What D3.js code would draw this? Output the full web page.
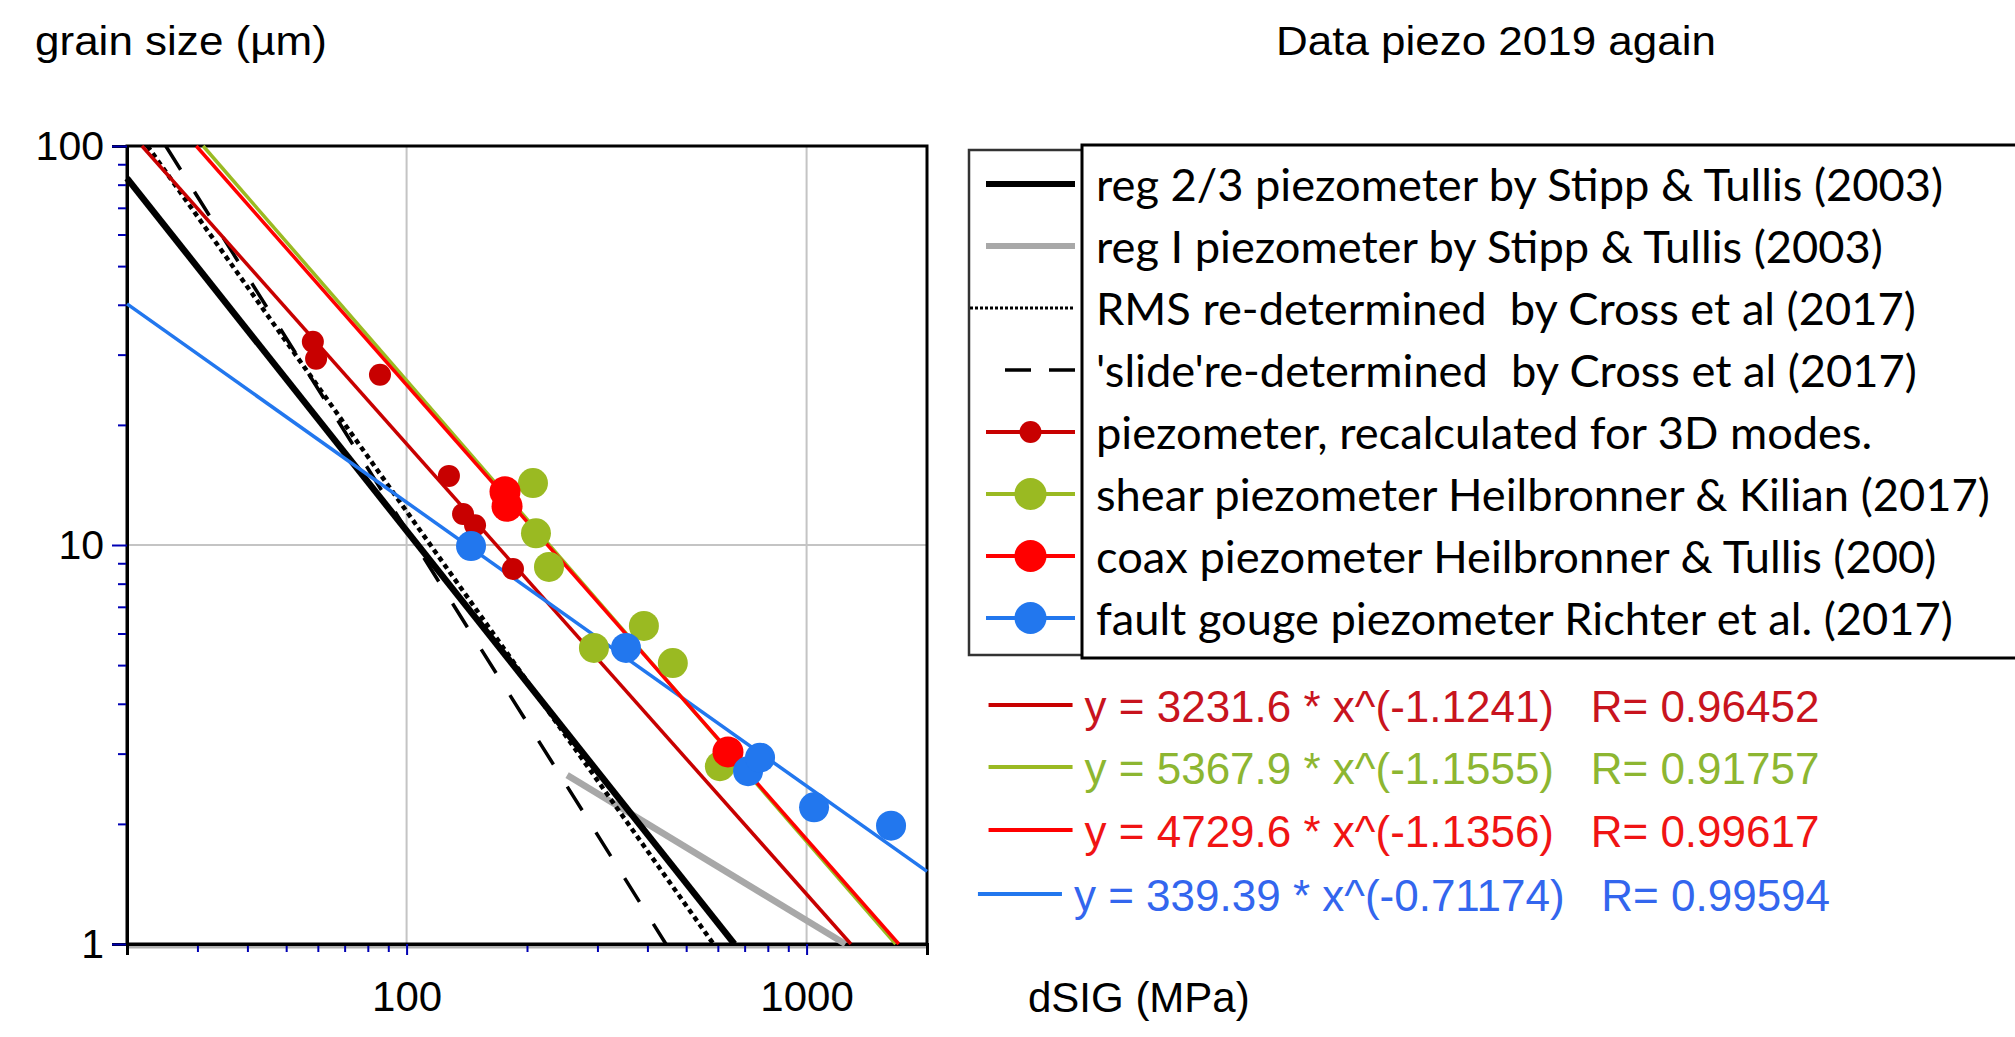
<!DOCTYPE html>
<html>
<head>
<meta charset="utf-8">
<script src="https://cdn.jsdelivr.net/npm/d3@7"></script>
<style>
  body { margin: 0; background: #fff; }
  svg { display: block; }
</style>
</head>
<body>
<svg id="chart" width="2015" height="1037"></svg>
<script>
// ---- data ----
var legendNames = [
    "reg 2/3 piezometer by Stipp & Tullis (2003)",
    "reg I piezometer by Stipp & Tullis (2003)",
    "RMS re-determined  by Cross et al (2017)",
    "'slide're-determined  by Cross et al (2017)",
    "piezometer, recalculated for 3D modes.",
    "shear piezometer Heilbronner & Kilian (2017)",
    "coax piezometer Heilbronner & Tullis (200)",
    "fault gouge piezometer Richter et al. (2017)"
];

// measured points (dSIG MPa, grain size um)
var recalcX = [58.3, 59.4, 85.8, 127.6, 138.4, 148.3, 184.5];
var recalcY = [32.3, 29.3, 26.7, 14.9, 11.96, 11.2, 8.71];
var shearX = [207, 210.6, 227, 294, 392, 463, 607];
var shearY = [14.3, 10.7, 8.81, 5.52, 6.27, 5.06, 2.79];
var coaxX = [176.2, 178.3, 636];
var coaxY = [13.6, 12.5, 3.03];
var gougeX = [144.9, 353.6, 714, 765, 1044, 1626];
var gougeY = [9.94, 5.52, 2.71, 2.93, 2.20, 1.98];

// piezometer lines, end points [x, y]
var reg23Line = [[20, 83], [660, 1]];
var reg1Line = [[252, 2.65], [1250, 1]];
var rmsLine = [[22.5, 100], [585, 1]];
var slideLine = [[25, 100], [445, 1]];
var recalcLine = [[21.8, 100], [1290, 1]];
var shearLine = [[31, 100], [1670, 1]];
var coaxLine = [[29.8, 100], [1700, 1]];
var gougeLine = [[20, 40.2], [2000, 1.52]];

// power-law fits printed under the legend
var fitA = ["3231.6", "5367.9", "4729.6", "339.39"];
var fitB = ["-1.1241", "-1.1555", "-1.1356", "-0.71174"];
var fitR = ["0.96452", "0.91757", "0.99617", "0.99594"];

// axis ticks
var yMajor = [1, 10, 100];
var yMinor = [2, 3, 4, 5, 6, 7, 8, 9, 20, 30, 40, 50, 60, 70, 80, 90];
var xMajor = [100, 1000];
var xEdge = [20, 2000];
var xMinor = [30, 40, 50, 60, 70, 80, 90, 200, 300, 400, 500, 600, 700, 800, 900];

// ---- drawing ----
var svg = d3.select("svg#chart");
var pLeft = 127, pRight = 927, pTop = 146, pBottom = 944;

var x = d3.scaleLog().domain([20, 2000]).range([pLeft, pRight]);
var y = d3.scaleLog().domain([1, 100]).range([pBottom, pTop]);

var darkRed = "#c80000", green = "#9aba22", red = "#ff0000", blue = "#2277ee";

// grid
var grid = svg.append("g");
grid.selectAll("line.gx")
    .data(xMajor)
    .enter()
    .append("line")
    .attr("x1", d => x(d)).attr("x2", d => x(d))
    .attr("y1", pTop).attr("y2", pBottom)
    .attr("stroke", "#c4c4c4").attr("stroke-width", 2);
grid.append("line")
    .attr("x1", pLeft).attr("x2", pRight)
    .attr("y1", y(10)).attr("y2", y(10))
    .attr("stroke", "#c4c4c4").attr("stroke-width", 2);
grid.append("line")
    .attr("x1", pLeft).attr("x2", pRight)
    .attr("y1", pBottom + 3).attr("y2", pBottom + 3)
    .attr("stroke", "#b0b0b0").attr("stroke-width", 3);

// plot frame
svg.append("rect")
    .attr("x", pLeft).attr("y", pTop)
    .attr("width", pRight - pLeft).attr("height", pBottom - pTop)
    .attr("fill", "none").attr("stroke", "#000").attr("stroke-width", 3);

// axes
function styleAxis(g) {
    g.select(".domain").attr("stroke", "#000").attr("stroke-width", 3);
    g.selectAll(".tick line").attr("stroke", "#0000b4").attr("stroke-width", 2);
    g.selectAll(".tick text")
        .attr("fill", "#000")
        .style("font-family", "'Liberation Sans', Arial, sans-serif")
        .style("font-size", "41px");
}

svg.append("g")
    .attr("transform", "translate(" + pLeft + ",0)")
    .call(d3.axisLeft(y).tickValues(yMinor).tickSize(9).tickFormat(""))
    .call(styleAxis);
svg.append("g")
    .attr("transform", "translate(" + pLeft + ",0)")
    .call(d3.axisLeft(y).tickValues(yMajor).tickSize(15).tickPadding(8).tickFormat(d3.format("d")))
    .call(styleAxis);

svg.append("g")
    .attr("transform", "translate(0," + pBottom + ")")
    .call(d3.axisBottom(x).tickValues(xMinor).tickSize(8).tickFormat(""))
    .call(styleAxis);
svg.append("g")
    .attr("transform", "translate(0," + pBottom + ")")
    .call(d3.axisBottom(x).tickValues(xEdge).tickSize(11).tickFormat(""))
    .call(styleAxis);
svg.append("g")
    .attr("transform", "translate(0," + pBottom + ")")
    .call(d3.axisBottom(x).tickValues(xMajor).tickSize(11).tickPadding(26).tickFormat(d3.format("d")))
    .call(styleAxis)
    .selectAll(".tick text").style("font-size", "42px");

// lines
var plot = svg.append("g");
var line = d3.line().x(d => x(d[0])).y(d => y(d[1]));

function addLine(pts, color, width, dash) {
    var p = plot.append("path")
        .datum(pts)
        .attr("d", line)
        .attr("fill", "none")
        .attr("stroke", color)
        .attr("stroke-width", width);
    if (dash) p.attr("stroke-dasharray", dash);
}

addLine(reg1Line, "#a8a8a8", 6.5);
addLine(slideLine, "#000", 3.5, "28,26");
addLine(rmsLine, "#000", 4.5, "5,4");
addLine(reg23Line, "#000", 6.5);
addLine(recalcLine, darkRed, 3.5);
addLine(gougeLine, blue, 3.5);
addLine(shearLine, green, 3.5);
addLine(coaxLine, red, 3.5);

function addPoints(xs, ys, color, r) {
    plot.append("g")
        .selectAll("circle")
        .data(xs.map((d, i) => [d, ys[i]]))
        .enter()
        .append("circle")
        .attr("cx", d => x(d[0]))
        .attr("cy", d => y(d[1]))
        .attr("r", r)
        .attr("fill", color);
}

addPoints(recalcX, recalcY, darkRed, 11);
addPoints(shearX, shearY, green, 15);
addPoints(coaxX, coaxY, red, 15.5);
addPoints(gougeX, gougeY, blue, 15);

// titles
var arial = "'Liberation Sans', Arial, sans-serif";
function fitText(t, width) {
    var w = t.node().getComputedTextLength();
    var tx = +t.attr("data-x"), ty = +t.attr("data-y");
    t.attr("transform", "translate(" + tx + "," + ty + ") scale(" + (width / w) + ",1)");
}

var yTitle = svg.append("text")
    .attr("data-x", 35).attr("data-y", 55)
    .style("font-family", arial).style("font-size", "40px")
    .text("grain size (\u00b5m)");
fitText(yTitle, 292);

var title = svg.append("text")
    .attr("data-x", 1276).attr("data-y", 55)
    .style("font-family", arial).style("font-size", "40px")
    .text("Data piezo 2019 again");
fitText(title, 440);

svg.append("text")
    .attr("x", 1028).attr("y", 1012)
    .style("font-family", arial).style("font-size", "42px")
    .text("dSIG (MPa)");

// legend
var legend = svg.append("g");
legend.append("rect")
    .attr("x", 969).attr("y", 150).attr("width", 830).attr("height", 505)
    .attr("fill", "#fff").attr("stroke", "#333").attr("stroke-width", 2.5);

var rowY = legendNames.map((d, i) => 184 + 62 * i);
var sx0 = 986, sx1 = 1075;

legend.append("line").attr("x1", sx0).attr("x2", sx1).attr("y1", rowY[0]).attr("y2", rowY[0])
    .attr("stroke", "#000").attr("stroke-width", 6);
legend.append("line").attr("x1", sx0).attr("x2", sx1).attr("y1", rowY[1]).attr("y2", rowY[1])
    .attr("stroke", "#a8a8a8").attr("stroke-width", 6);
legend.append("line").attr("x1", 970).attr("x2", sx1).attr("y1", rowY[2]).attr("y2", rowY[2])
    .attr("stroke", "#000").attr("stroke-width", 3).attr("stroke-dasharray", "3,2");
legend.append("line").attr("x1", 1005).attr("x2", sx1).attr("y1", rowY[3]).attr("y2", rowY[3])
    .attr("stroke", "#000").attr("stroke-width", 3.5).attr("stroke-dasharray", "26,18");

var markerRows = [[darkRed, 11], [green, 16], [red, 16], [blue, 16]];
markerRows.forEach(function (m, i) {
    var ry = rowY[4 + i];
    legend.append("line").attr("x1", sx0).attr("x2", sx1).attr("y1", ry).attr("y2", ry)
        .attr("stroke", m[0]).attr("stroke-width", 4);
    legend.append("circle").attr("cx", (sx0 + sx1) / 2).attr("cy", ry).attr("r", m[1])
        .attr("fill", m[0]);
});

legend.append("rect")
    .attr("x", 1082).attr("y", 145).attr("width", 960).attr("height", 513)
    .attr("fill", "#fff").attr("stroke", "#000").attr("stroke-width", 3);

var legendText = legend.append("g");
var labels = legendText.selectAll("text")
    .data(legendNames)
    .enter()
    .append("text")
    .attr("x", 0)
    .attr("y", (d, i) => rowY[i] + 17)
    .style("font-family", "Lato, 'Open Sans', sans-serif")
    .style("font-size", "45px")
    .style("white-space", "pre")
    .text(d => d);
var widest = d3.max(labels.nodes(), n => n.getComputedTextLength());
legendText.attr("transform", "translate(1096,0) scale(" + (894 / widest) + ",1)");

// fit equations
var fitColors = [["#c8141e", darkRed], ["#8db631", green], ["#f01414", red], ["#3366ee", blue]];
var eqY = [707, 769, 832, 896];
fitA.forEach(function (a, i) {
    var t = svg.append("text")
        .attr("x", 1452)
        .attr("y", eqY[i] + 15)
        .attr("text-anchor", "middle")
        .attr("fill", fitColors[i][0])
        .style("font-family", arial)
        .style("font-size", "44px")
        .style("white-space", "pre")
        .text("y = " + a + " * x^(" + fitB[i] + ")   R= " + fitR[i]);
    var w = t.node().getComputedTextLength();
    var x0 = 1452 - w / 2;
    svg.append("line")
        .attr("x1", x0 - 96).attr("x2", x0 - 12)
        .attr("y1", eqY[i] - 2).attr("y2", eqY[i] - 2)
        .attr("stroke", fitColors[i][1]).attr("stroke-width", 4);
});
</script>
</body>
</html>
